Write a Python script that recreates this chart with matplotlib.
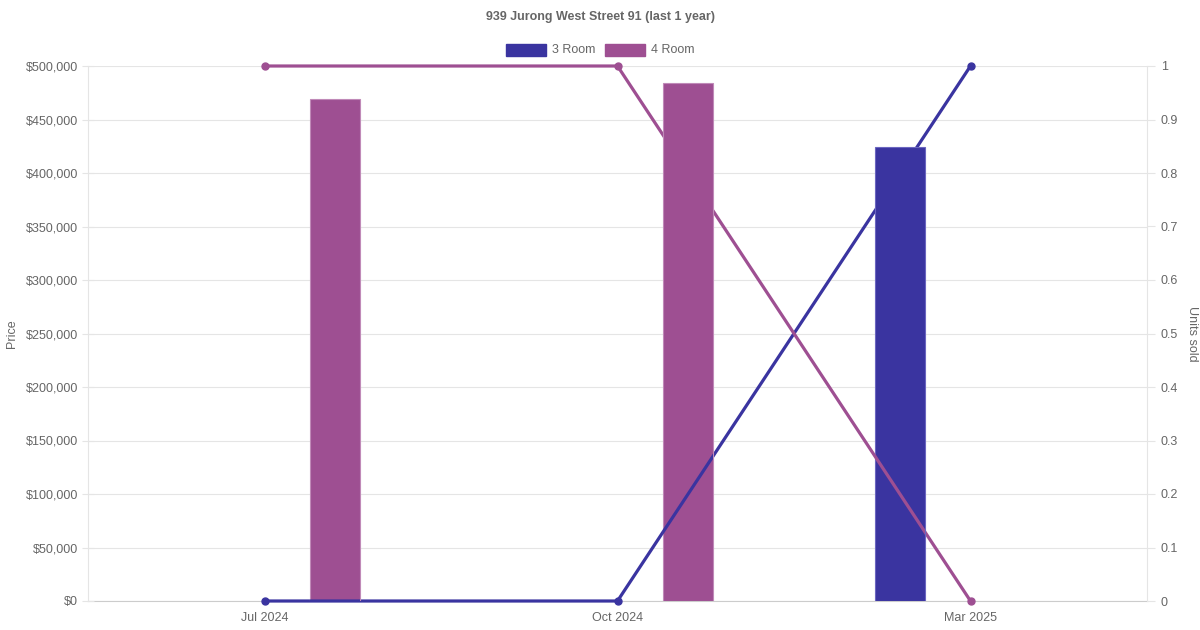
import numpy as np
import matplotlib
matplotlib.use('Agg')
import matplotlib.pyplot as plt
from matplotlib.patches import Rectangle

plt.rcParams['font.family'] = ['Liberation Sans', 'DejaVu Sans']

months = ['Jul 2024', 'Oct 2024', 'Mar 2025']
price_3room = [0, 0, 424000]
price_4room = [469000, 484000, 0]
units_3room = [0, 0, 1]
units_4room = [1, 1, 0]

c3 = '#3a34a0'
c4 = '#9e4f92'
grey = '#666666'
gridc = '#e5e5e5'

fig = plt.figure(figsize=(12, 6.3), dpi=100)
ax = fig.add_axes([88/1200, 1-601/630, (1147-88)/1200, (601-66)/630])
ax2 = ax.twinx()

x = np.arange(len(months))
off = 0.2
w = 50/353

ax.set_xlim(-0.5, len(months) - 0.5)
ax.set_ylim(0, 500000)
ax2.set_ylim(0, 1)

# bars
bars3 = []
bars4 = []
for i in range(len(months)):
    if price_3room[i] > 0:
        bars3 += list(ax.bar(x[i] - off, price_3room[i], width=w, color=c3,
                             edgecolor='#6b66c0', lw=0.8, zorder=2))
    if price_4room[i] > 0:
        bars4 += list(ax.bar(x[i] + off, price_4room[i], width=w, color=c4,
                             edgecolor='#c08ab8', lw=0.8, zorder=2))

# lines (right axis scale): under their own bars, over the other series' bars
for units, col, other in [(units_3room, c3, bars4), (units_4room, c4, bars3)]:
    ax.plot(x, units, color=col, lw=2.3, marker='o', ms=5, zorder=1,
            transform=ax2.transData, clip_on=False)
    for b in other:
        ln, = ax.plot(x, units, color=col, lw=2.3, marker='o', ms=5, zorder=3,
                      transform=ax2.transData)
        ln.set_clip_path(b)

ax.set_yticks(np.arange(0, 500001, 50000))
ax.set_yticklabels(['${:,.0f}'.format(v) for v in np.arange(0, 500001, 50000)])
ax2.set_yticks(np.arange(0, 1.01, 0.1))
ax2.set_yticklabels(['0'] + ['{:.1f}'.format(v) for v in np.arange(0.1, 0.95, 0.1)] + ['1'])
ax.set_xticks(x)
ax.set_xticklabels(months)

ax.grid(axis='y', color=gridc, lw=0.8, zorder=0)
ax.set_axisbelow(True)
for a in (ax, ax2):
    for s in a.spines.values():
        s.set_visible(False)
ax.spines['left'].set_visible(True)
ax.spines['left'].set_color(gridc)
ax.spines['bottom'].set_visible(True)
ax.spines['bottom'].set_color('#cccccc')
ax.spines['bottom'].set_zorder(0.5)
ax2.spines['right'].set_visible(True)
ax2.spines['right'].set_color(gridc)

ax.tick_params(axis='y', colors=grey, labelsize=9, length=8, color=gridc, pad=3, direction='inout')
ax.tick_params(axis='x', colors=grey, labelsize=9, length=0, pad=8)
ax2.tick_params(axis='y', colors=grey, labelsize=9, length=6, color=gridc, pad=4)

ax.set_ylabel('Price', color=grey, fontsize=9, labelpad=6)
ax2.set_ylabel('Units sold', color=grey, fontsize=9, rotation=270, labelpad=14)

fig.text(0.5, 1-17/630, '939 Jurong West Street 91 (last 1 year)', ha='center', va='center',
         color=grey, fontsize=9, fontweight='bold')

# legend
for lx, lab, col in [(506, '3 Room', c3), (605, '4 Room', c4)]:
    fig.patches.append(Rectangle((lx/1200, 1-56/630), 40/1200, 12/630, transform=fig.transFigure,
                                 facecolor=col, edgecolor=col))
    fig.text((lx+46)/1200, 1-50/630, lab, ha='left', va='center', color=grey, fontsize=9)

fig.savefig('out.png', dpi=100)
